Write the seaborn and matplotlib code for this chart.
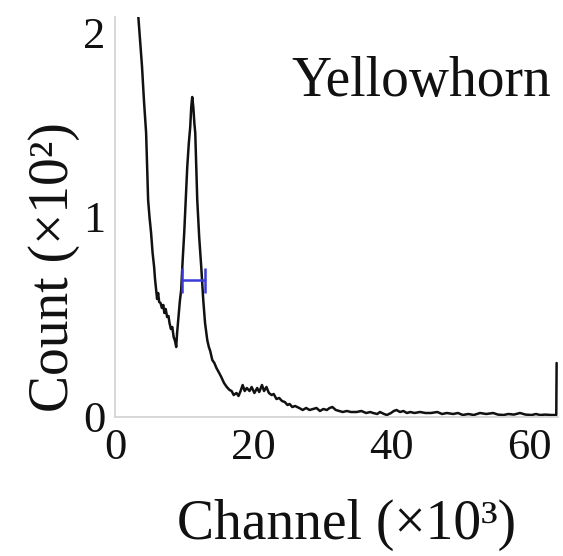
import matplotlib
matplotlib.use("Agg")
import matplotlib.pyplot as plt
import seaborn as sns
import pandas as pd
from matplotlib.ticker import MultipleLocator

# ---- data (Channel in units of 10^3, Count in units of 10^2) ----
channel = [3.34, 3.6, 3.92, 4.2, 4.51, 4.65, 4.80, 5.0, 5.23, 5.45, 5.67, 5.8, 5.96,
           6.1, 6.25, 6.4, 6.6, 6.8, 7.0, 7.15, 7.35, 7.55, 7.75, 7.9, 8.1, 8.3, 8.5, 8.7, 8.87,
           9.0, 9.2, 9.4, 9.59, 9.8, 10.03, 10.25, 10.47, 10.7, 10.9, 11.05, 11.19,
           11.35, 11.5, 11.63, 11.78, 11.92, 12.2, 12.5, 12.79, 13.05, 13.37,
           13.6, 13.8, 14.1, 14.4, 14.7, 15.1, 15.4, 15.8, 16.2, 16.6, 16.9, 17.2, 17.6, 17.9,
           18.2, 18.5, 18.8, 19.1, 19.5, 19.8, 20.2, 20.6, 20.9, 21.3, 21.6, 21.95, 22.3, 22.7,
           23.0, 23.4, 23.8, 24.2, 24.6, 25.0, 25.3, 25.7, 26.1, 26.7, 27.2, 27.7, 28.2, 28.7,
           29.2, 29.7, 30.2, 30.7, 31.1, 31.5, 32.0, 32.5, 33.0, 33.6, 34.2, 35.0, 35.7, 36.4,
           37.0, 37.4, 38.0, 38.4, 39.0, 39.4, 40.0, 40.4, 40.8, 41.3, 41.8, 42.3, 42.8, 43.4,
           44.2, 45.0, 45.8, 46.7, 47.4, 48.1, 49.0, 49.7, 50.4, 51.2, 52.0, 52.9, 53.8, 54.8,
           55.5, 56.3, 57.0, 57.8, 58.7, 59.5, 60.4, 61.0, 61.6, 62.4, 63.2, 63.95, 64.0]
count = [2.02, 1.9, 1.75, 1.58, 1.42, 1.25, 1.085, 1.0, 0.92, 0.82, 0.75, 0.69, 0.635,
         0.59, 0.62, 0.575, 0.57, 0.545, 0.56, 0.52, 0.54, 0.50, 0.505, 0.47, 0.44, 0.45, 0.40, 0.38, 0.35,
         0.42, 0.50, 0.58, 0.635, 0.78, 0.92, 1.09, 1.25, 1.37, 1.45, 1.55, 1.60,
         1.55, 1.47, 1.42, 1.25, 1.085, 0.90, 0.75, 0.585, 0.47, 0.385,
         0.35, 0.33, 0.285, 0.27, 0.245, 0.22, 0.20, 0.17, 0.15, 0.135, 0.13, 0.11, 0.12, 0.105,
         0.13, 0.16, 0.13, 0.145, 0.13, 0.15, 0.12, 0.145, 0.125, 0.16, 0.13, 0.15, 0.12, 0.11,
         0.115, 0.09, 0.095, 0.08, 0.075, 0.06, 0.065, 0.05, 0.055, 0.045, 0.035, 0.045, 0.035, 0.04,
         0.045, 0.03, 0.04, 0.035, 0.045, 0.05, 0.035, 0.03, 0.025, 0.03, 0.025, 0.025, 0.03, 0.02,
         0.025, 0.02, 0.015, 0.025, 0.015, 0.01, 0.02, 0.03, 0.035, 0.025, 0.03, 0.02, 0.025, 0.02,
         0.025, 0.02, 0.02, 0.025, 0.015, 0.02, 0.015, 0.02, 0.01, 0.015, 0.01, 0.02, 0.015, 0.02,
         0.012, 0.01, 0.015, 0.012, 0.02, 0.012, 0.01, 0.015, 0.01, 0.012, 0.01, 0.01, 0.27]

fwhm_left = 9.7
fwhm_right = 13.1
fwhm_level = 0.685

x_ticks = [0, 20, 40, 60]
y_ticks = [0, 1, 2]
sample_name = "Yellowhorn"
x_label = "Channel (×10³)"
y_label = "Count (×10²)"

# ---- plot ----
sns.set_style("white")
plt.rcParams["font.family"] = ["Liberation Serif", "DejaVu Serif"]

fig = plt.figure(figsize=(5.63, 5.56), dpi=100)
ax = fig.add_axes([115 / 563, 1 - 417 / 556, 443 / 563, 400 / 556])

df = pd.DataFrame({"channel": channel, "count": count})
sns.lineplot(data=df, x="channel", y="count", ax=ax, color="#111111",
             linewidth=1.8, estimator=None, sort=False)

fwhm_center = (fwhm_left + fwhm_right) / 2
fwhm_half = (fwhm_right - fwhm_left) / 2
ax.errorbar([fwhm_center], [fwhm_level], xerr=[fwhm_half], fmt="none",
            ecolor="#3a3ad8", elinewidth=1.8, capsize=9, capthick=1.8)

ax.set_xlim(0, 64.2)
ax.set_ylim(0, 2.0)
ax.set_xticks(x_ticks)
ax.set_yticks(y_ticks)
ax.xaxis.set_minor_locator(MultipleLocator(5))
ax.yaxis.set_minor_locator(MultipleLocator(0.5))

for s in ["top", "right"]:
    ax.spines[s].set_visible(False)
for s in ["left", "bottom"]:
    ax.spines[s].set_color("#d4d4d4")
    ax.spines[s].set_linewidth(1.3)

ax.tick_params(axis="both", which="major", direction="in", length=4, width=1,
               color="#d4d4d4", labelsize=32, labelcolor="#111111")
ax.tick_params(axis="x", which="major", pad=8)
ax.tick_params(axis="y", which="major", pad=7)
ax.tick_params(axis="both", which="minor", direction="in", length=3, width=0.8,
               color="#e2e2e2")
for lab in ax.get_yticklabels():
    if lab.get_text() == "2":
        lab.set_va("top")

ax.set_xlabel(x_label, fontsize=40, color="#111111")
ax.set_ylabel(y_label, fontsize=40, color="#111111")
ax.xaxis.set_label_coords((347 - 115) / 443, (417 - 499) / 400)
ax.yaxis.set_label_coords((80 - 115) / 443, (417 - 267) / 400)

ax.text((291 - 115) / 443, (417 - 96) / 400, sample_name, transform=ax.transAxes,
        fontsize=40, ha="left", va="baseline", color="#111111")

fig.savefig("out.png", dpi=100)
